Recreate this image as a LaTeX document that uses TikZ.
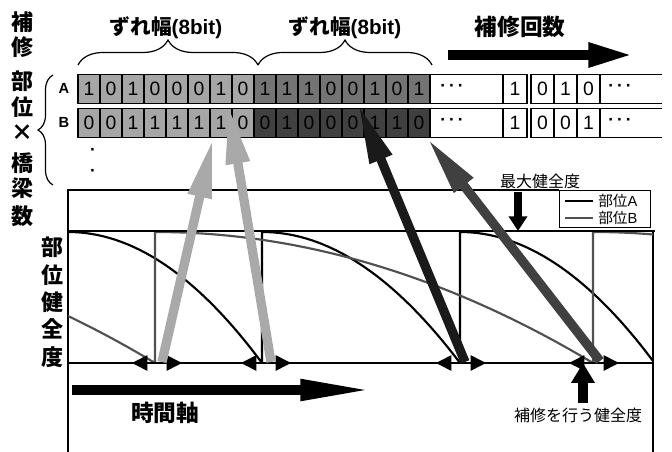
\documentclass[tikz,border=0pt]{standalone}
\usepackage{fontspec}
\setmainfont{Liberation Sans}
\newfontfamily\jp{Noto Sans CJK JP}
\usetikzlibrary{arrows.meta,decorations.pathreplacing,calc}
\definecolor{cellL}{HTML}{A6A6A6}
\definecolor{cellM}{HTML}{747474}
\definecolor{cellD}{HTML}{404040}
\definecolor{curveB}{HTML}{505050}
\definecolor{arrL}{HTML}{A9A9A9}
\definecolor{arrD}{HTML}{404040}
\definecolor{arrK}{HTML}{1A1A1A}
\begin{document}
\begin{tikzpicture}[x=0.75pt,y=-0.75pt,
  cell/.style={draw=black, line width=0.8pt, minimum width=16.5pt, minimum height=21.75pt, inner sep=0pt, font=\fontsize{14.5}{15}\selectfont},
  vbig/.style={font=\jp\bfseries\fontsize{16.5}{17}\selectfont, inner sep=0pt},
  hbig/.style={font=\jp\bfseries\fontsize{15.5}{16}\selectfont, inner sep=0pt},
  tbig/.style={font=\jp\bfseries\fontsize{17}{18}\selectfont, inner sep=0pt},
  small/.style={font=\jp\fontsize{12}{13}\selectfont, inner sep=0pt},
  leg/.style={font=\jp\fontsize{11}{12}\selectfont, inner sep=0pt},
  rowlab/.style={font=\bfseries\fontsize{11}{12}\selectfont, inner sep=0pt},
  dotsx/.style={font=\bfseries\fontsize{13}{13}\selectfont, inner sep=0pt},
  brc/.style={decorate, decoration={brace, amplitude=#1}, line width=0.9pt},
  curveA/.style={line width=1.6pt, black, line join=round},
  curveBs/.style={line width=1.6pt, curveB, line join=round},
  axisline/.style={line width=1.6pt},
  bigarrow/.style={line width=7pt, -{Triangle[length=45pt,width=16.5pt]}},
  dbl/.style={line width=1.2pt, {Triangle[length=11.5pt,width=11.5pt]}-{Triangle[length=11.5pt,width=11.5pt]}},
]
\useasboundingbox (0,0) rectangle (672,452);

% ---- left vertical label
\foreach \c/\yy [count=\k] in {補/22,修/47,部/81,位/107,×/133,橋/163,梁/188,数/216}
  \node[vbig] (lv\k) at (22.5,\yy) {\c};

% ---- row labels
\node[rowlab] (labA) at (64,88.5) {A};
\node[rowlab] (labB) at (64,122.5) {B};

% ---- bit cells row A
\foreach \b [count=\i] in {1,0,1,0,0,0,1,0}
  \node[cell, fill=cellL] (a\i) at ({67+22*\i},89) {\b};
\foreach \b [count=\i from 9] in {1,1,1,0,0,1,0,1}
  \node[cell, fill=cellM] (a\i) at ({67+22*\i},89) {\b};
% ---- bit cells row B
\foreach \b [count=\i] in {0,0,1,1,1,1,1,0}
  \node[cell, fill=cellL] (b\i) at ({67+22*\i},123) {\b};
\foreach \b [count=\i from 9] in {0,1,0,0,0,1,1,0}
  \node[cell, fill=cellD] (b\i) at ({67+22*\i},123) {\b};

% later cells
\node[cell, minimum width=18pt] (a17) at (515,89) {1};
\node[cell, minimum width=18pt] (b17) at (515,123) {1};
\foreach \b [count=\i from 18] in {0,1,0}
  \node[cell, minimum width=17.25pt] (a\i) at ({542.5+23*(\i-18)},89) {\b};
\foreach \b [count=\i from 18] in {0,0,1}
  \node[cell, minimum width=17.25pt] (b\i) at ({542.5+23*(\i-18)},123) {\b};

\node[dotsx] (adots1) at (452,88) {·\,·\,·};
\node[dotsx] (bdots1) at (452,122) {·\,·\,·};
\node[dotsx] (adots2) at (620,88) {·\,·\,·};
\node[dotsx] (bdots2) at (620,122) {·\,·\,·};

% row outlines
\draw[line width=1.3pt] (78,74.5) rectangle (527,103.5);
\draw[line width=1.3pt] (78,108.5) rectangle (527,137.5);
\draw[line width=1.3pt] (662,74.5) -- (531,74.5) -- (531,103.5) -- (662,103.5);
\draw[line width=1.3pt] (662,108.5) -- (531,108.5) -- (531,137.5) -- (662,137.5);

% vertical dots
\node[dotsx] (vd1) at (93,152) {·};
\node[dotsx] (vd2) at (93,173) {·};

% ---- braces
\draw[brc=18.75pt] (78,65) -- (258,65);
\draw[brc=18.75pt] (258,65) -- (432,65);
\draw[brc=11.25pt] (53,185) -- (53,75);
\node[hbig] (zw1) at (166,28) {ずれ幅{\rmfamily(8bit)}};
\node[hbig] (zw2) at (345,28) {ずれ幅{\rmfamily(8bit)}};

% ---- repair count arrow
\node[tbig] (cnt) at (520,27) {補修回数};
\coordinate (cntS) at (448,55);
\coordinate (cntE) at (635,55);
\draw[line width=8pt, -{Triangle[length=35pt,width=16.5pt]}] (cntS) -- (cntE);

% ---- chart frame
\draw[line width=1.1pt] (68,452) -- (68,190) -- (559,190);
\draw[line width=1.1pt] (653,231) -- (653,452);

% curves
\draw[curveA] (68,232) .. controls (132.7,232) and (197.3,275.7) .. (262,363) -- (262,232)
  .. controls (328,232) and (394,275.7) .. (460,363) -- (460,232)
  .. controls (524.3,232) and (588.7,275) .. (653,361);
\draw[curveBs] (68,316) .. controls (97,329.9) and (126,345.5) .. (155,363) -- (155,232)
  .. controls (301,232) and (447,275.7) .. (593,363) -- (593,232)
  .. controls (613,232) and (633,232.8) .. (653,234.5);

% max & threshold lines
\draw[axisline] (68,231) -- (655,231);
\draw[axisline] (68,363) -- (653,363);

% legend
\draw[line width=0.6pt, fill=white] (559,190) rectangle (650,227);
\coordinate (lgA1) at (565,201); \coordinate (lgA2) at (593,201);
\coordinate (lgB1) at (565,218); \coordinate (lgB2) at (593,218);
\draw[line width=1.5pt] (lgA1) -- (lgA2);
\draw[line width=1.5pt, curveB] (lgB1) -- (lgB2);
\node[leg, anchor=west] (legA) at (598,201) {部位{\rmfamily A}};
\node[leg, anchor=west] (legB) at (598,218) {部位{\rmfamily B}};

% repair points
\coordinate (rB1) at (157,363);
\coordinate (rA1) at (266,363);
\coordinate (rA2) at (461,363);
\coordinate (rB2) at (594,363);
\foreach \r in {rB1,rA1,rA2,rB2}
  \draw[dbl] ($(\r)+(-25,0)$) -- ($(\r)+(25,0)$);

% labels with arrows
\node[small] (maxl) at (540,181) {最大健全度};
\coordinate (maxS) at (518,192);
\coordinate (maxE) at (518,231);
\draw[line width=6pt, -{Triangle[length=11pt,width=13.5pt]}] (maxS) -- (maxE);

\node[small] (thl) at (578,415) {補修を行う健全度};
\coordinate (thS) at (583,403);
\coordinate (thE) at (583,363);
\draw[line width=7.5pt, -{Triangle[length=15pt,width=17pt]}] (thS) -- (thE);

% vertical axis label
\foreach \c/\yy [count=\k] in {部/247,位/275,健/302,全/329,度/357}
  \node[vbig] (hv\k) at (52.5,\yy) {\c};

% time axis
\coordinate (tS) at (72,390);
\coordinate (tE) at (375,390);
\draw[line width=7.5pt, -{Triangle[length=56pt,width=14.5pt]}] (tS) -- (tE);
\node[tbig] (timel) at (165,413) {時間軸};

% ---- big arrows to bits
\draw[bigarrow, arrL] ($(rB1)+(5,-1)$) -- ([xshift=-6pt]b7.south);
\draw[bigarrow, arrL] ($(rA1)+(5,-1)$) -- ([xshift=5.25pt]a7.south);
\draw[bigarrow, arrK] ($(rA2)+(4,-1)$) -- ([xshift=3.75pt]a13.south);
\draw[bigarrow, arrD] ($(rB2)+(6,-2)$) -- ([xshift=6pt]b16.south);
\end{tikzpicture}
\end{document}
